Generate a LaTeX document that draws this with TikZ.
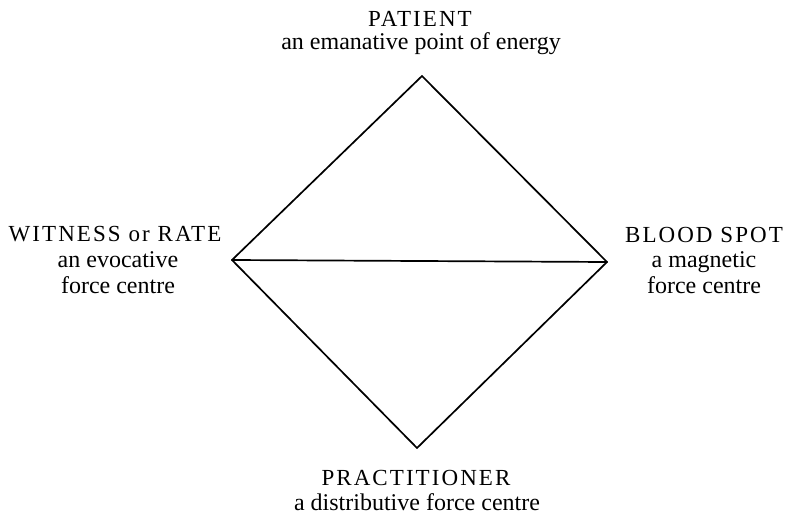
\documentclass[tikz,border=0pt]{standalone}
\usepackage{fontspec}
\setmainfont{Liberation Serif}
\newfontfamily\capsfont[LetterSpace=9]{Liberation Serif}
\tikzset{
  lbl/.style={anchor=base, inner sep=0pt, font=\fontsize{24}{26}\selectfont},
  caplbl/.style={anchor=base, inner sep=0pt, font=\capsfont\fontsize{23}{25}\selectfont},
  edge/.style={line width=1.7pt, line cap=round, line join=round}
}
\begin{document}
\begin{tikzpicture}[x=1pt,y=-1pt]
\useasboundingbox (0,0) rectangle (788,516);
\coordinate (top) at (422,76);
\coordinate (left) at (232,260);
\coordinate (right) at (607,262);
\coordinate (bottom) at (417,448);
\draw[edge] (top) -- (left);
\draw[edge] (top) -- (right);
\draw[edge] (left) -- (right);
\draw[edge] (left) -- (bottom);
\draw[edge] (right) -- (bottom);
\node[caplbl] (t1) at (420,27) {PATIENT};
\node[lbl] (t2) at (421,50) {an emanative point of energy};
\node[caplbl] (l1) at (115,242) {WITNESS or RATE};
\node[lbl] (l2) at (118,268) {an evocative};
\node[lbl] (l3) at (118,293) {force centre};
\node[caplbl] (r1) at (704,243) {BLOOD SPOT};
\node[lbl] (r2) at (704,267) {a magnetic};
\node[lbl] (r3) at (704,293) {force centre};
\node[caplbl] (b1) at (416,485) {PRACTITIONER};
\node[lbl] (b2) at (417,510) {a distributive force centre};
\end{tikzpicture}
\end{document}
